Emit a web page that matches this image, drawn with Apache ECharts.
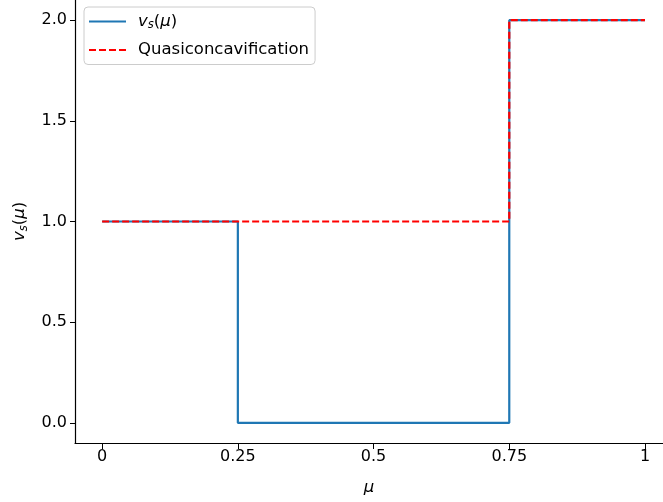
<!DOCTYPE html>
<html>
<head>
<meta charset="utf-8">
<script src="https://cdn.jsdelivr.net/npm/echarts@6/dist/echarts.min.js"></script>
<style>
  html, body { margin: 0; padding: 0; background: #fff; }
  #main { width: 663px; height: 502px; }
</style>
</head>
<body>
<div id="main"></div>
<script>
// step function v_s(mu) and its quasiconcavification
const vsPoints = [[0, 1], [0.25, 1], [0.25, 0], [0.75, 0], [0.75, 2], [1, 2]];
const quasiPoints = [[0, 1], [0.75, 1], [0.75, 2], [1, 2]];
const xTicks = [0, 0.25, 0.5, 0.75, 1];
const xTickLabels = ['0', '0.25', '0.5', '0.75', '1'];
const yTicks = [0, 0.5, 1, 1.5, 2];

const font = 'DejaVu Sans';
const mathRich = {
  i: { fontFamily: font, fontStyle: 'italic', fontSize: 16.5, color: '#000' },
  s: { fontFamily: font, fontStyle: 'italic', fontSize: 11.5, color: '#000', verticalAlign: 'bottom', padding: [8, 0, 0, 0] },
  n: { fontFamily: font, fontSize: 16.5, color: '#000' }
};
const vsLabel = '{i|v}{s|s}{n|(}{i|μ}{n|)}';

let chartDom = document.getElementById('main');
let myChart = echarts.init(chartDom);

let optionObj = {
  animation: false,
  textStyle: { fontFamily: font },
  grid: { left: 75, right: 0, top: -2, bottom: 59 },
  legend: {
    orient: 'vertical',
    left: 84,
    top: 7,
    padding: [6, 6, 6, 4],
    itemWidth: 37,
    itemHeight: 16,
    itemGap: 10,
    borderColor: '#cccccc',
    borderWidth: 1,
    borderRadius: 4,
    backgroundColor: '#fff',
    itemStyle: { opacity: 0 },
    lineStyle: { width: 2 },
    textStyle: { fontFamily: font, fontSize: 16.5, color: '#000', padding: [0, 0, 0, 7], rich: mathRich },
    formatter: function (name) {
      return name === 'vs' ? vsLabel : name;
    },
    data: ['vs', 'Quasiconcavification']
  },
  xAxis: {
    type: 'value',
    min: -0.05,
    max: 1.0332,
    splitLine: { show: false },
    axisLine: { onZero: false, lineStyle: { color: '#000', width: 1.2 } },
    axisTick: { customValues: xTicks, length: 6, lineStyle: { color: '#000' } },
    axisLabel: {
      customValues: xTicks,
      color: '#000',
      fontSize: 16,
      margin: 6,
      formatter: function (v) {
        return xTickLabels[xTicks.indexOf(v)];
      }
    },
    name: '{i|μ}',
    nameLocation: 'middle',
    nameGap: 36,
    nameTextStyle: { rich: mathRich }
  },
  yAxis: {
    type: 'value',
    min: -0.1,
    max: 2.1,
    splitLine: { show: false },
    axisLine: { show: true, onZero: false, lineStyle: { color: '#000', width: 1.2 } },
    axisTick: { show: true, customValues: yTicks, length: 5, lineStyle: { color: '#000' } },
    axisLabel: {
      customValues: yTicks,
      color: '#000',
      fontSize: 16,
      margin: 8,
      formatter: function (v) { return v.toFixed(1); }
    },
    name: vsLabel,
    nameLocation: 'middle',
    nameRotate: 90,
    nameGap: 45,
    nameTextStyle: { rich: mathRich }
  },
  series: [
    {
      name: 'vs',
      type: 'line',
      data: vsPoints,
      symbol: 'none',
      color: '#1f77b4',
      lineStyle: { width: 2.2, color: '#1f77b4' }
    },
    {
      name: 'Quasiconcavification',
      type: 'line',
      data: quasiPoints,
      symbol: 'none',
      color: '#ff0000',
      lineStyle: { width: 2.2, color: '#ff0000', type: [7, 3] }
    }
  ]
};

myChart.setOption(optionObj);
</script>
</body>
</html>
